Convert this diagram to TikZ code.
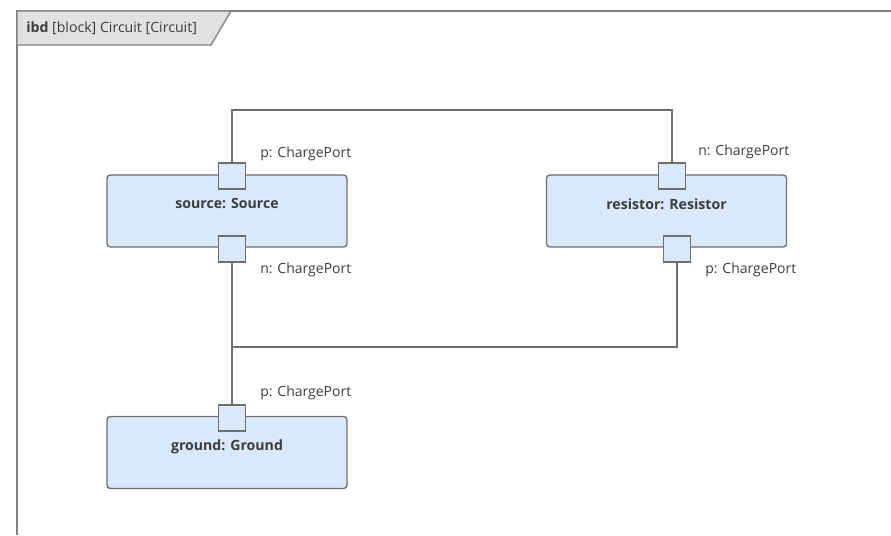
\documentclass[tikz,border=0pt]{standalone}
\usepackage{fontspec}
\setmainfont{Open Sans}
\usetikzlibrary{positioning}
\definecolor{blockfill}{HTML}{DAE8FC}
\definecolor{blockline}{HTML}{6E6E6E}
\definecolor{textgray}{HTML}{3C3C3C}
\definecolor{framegray}{HTML}{808080}
\definecolor{tabfill}{HTML}{E1E1E1}
\tikzset{
  block/.style={draw=blockline, fill=blockfill, line width=1pt, rounded corners=2.5pt,
    minimum width=180pt, minimum height=54pt, text depth=11pt,
    font=\fontsize{10.6}{12}\selectfont\bfseries, text=textgray},
  port/.style={draw=blockline, fill=blockfill, line width=1pt,
    minimum width=20pt, minimum height=19.5pt, inner sep=0pt},
  portlbl/.style={anchor=west, inner sep=0pt, font=\fontsize{10.5}{12}\selectfont, text=textgray},
  wire/.style={draw=blockline, line width=1pt},
}
\begin{document}
\begin{tikzpicture}[x=0.75pt, y=-0.75pt]
        \useasboundingbox (0,0) rectangle (891,535);
        % frame
        \draw[framegray, line width=1.5pt] (891,11) -- (17,11) -- (17,535);
        \draw[framegray, line width=1pt, fill=tabfill] (17,11) -- (231,11) -- (211,45) -- (17,45) -- cycle;
        \node[anchor=west, inner sep=0pt, font=\fontsize{10.6}{12}\selectfont, text=textgray] (title) at (26,28)
        {\textbf{ibd} [block] Circuit [Circuit]};
        % blocks
        \node[block] (src) at (227,211) {source: Source};
        \node[block] (res) at (666.5,211) {resistor: Resistor};
        \node[block] (gnd) at (227,452.5) {ground: Ground};
        % ports
        \node[port] (srcp) at (232,176) {};
        \node[port] (srcn) at (232,249) {};
        \node[port] (resp) at (672,176) {};
        \node[port] (resn) at (677,249) {};
        \node[port] (gndp) at (232,418) {};
        \node[portlbl] (srcpl) at (260,154) {p: ChargePort};
        \node[portlbl] (srcnl) at (260,270) {n: ChargePort};
        \node[portlbl] (respl) at (698,152) {n: ChargePort};
        \node[portlbl] (resnl) at (705,270) {p: ChargePort};
        \node[portlbl] (gndpl) at (260,393) {p: ChargePort};
        % connectors
        \coordinate (top) at (452,110);
        \coordinate (jn) at (232,347);
        \draw[wire] (srcp.north) |- (top) -| (resp.north);
        \draw[wire] (srcn.south) -- (gndp.north);
        \draw[wire] (jn) -| (resn.south);
    \end{tikzpicture}
\end{document}
